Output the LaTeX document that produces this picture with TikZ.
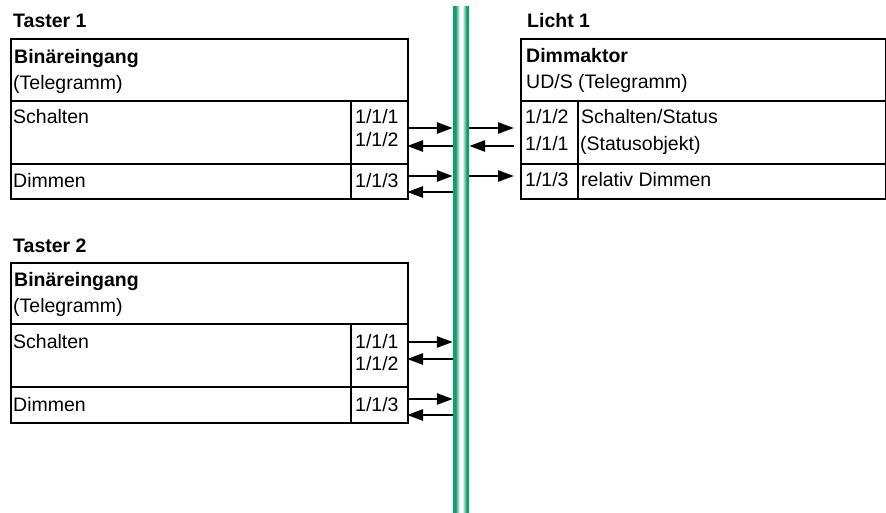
\documentclass[tikz,border=0pt]{standalone}
\usepackage{fontspec}
\setmainfont{Liberation Sans}
\usepackage{tikz}
\usetikzlibrary{arrows.meta,positioning}

\definecolor{busgreen}{RGB}{18,158,108}
\pgfdeclarehorizontalshading{busshade}{100bp}{color(0bp)=(busgreen); color(25bp)=(busgreen); color(33bp)=(busgreen); color(46bp)=(white); color(54bp)=(white); color(67bp)=(busgreen); color(75bp)=(busgreen); color(100bp)=(busgreen)}

\begin{document}
\begin{tikzpicture}[x=1pt,y=-1pt,>={Triangle[length=16pt,width=11pt]},
	cell/.style={draw, line width=2pt, anchor=north west, inner sep=0pt},
	txt/.style={anchor=base west, inner sep=0pt, font=\fontsize{19.5}{23}\selectfont},
	kopf/.style={txt, font=\fontsize{19.5}{23}\selectfont\bfseries},
	pfeil/.style={->, line width=2.6pt}]
			\useasboundingbox (0,0) rectangle (886,513);
			
			% Bus
			\node[shading=busshade, minimum width=16pt, minimum height=507pt, inner sep=0pt, anchor=north] (bus) at (461,6) {};
			
			% Taster 1
			\node[cell, minimum width=397pt, minimum height=62pt] (t1kopf) at (10,38) {};
			\node[cell, minimum width=340pt, minimum height=63pt] (t1sch) at (10,100) {};
			\node[cell, minimum width=57pt, minimum height=63pt] (t1ga) at (350,100) {};
			\node[cell, minimum width=340pt, minimum height=35pt] (t1dim) at (10,163) {};
			\node[cell, minimum width=57pt, minimum height=35pt] (t1gb) at (350,163) {};
			
			\node[kopf] (t1) at (13,28) {Taster 1};
			\node[kopf] (t1a) at (14,64) {Binäreingang};
			\node[txt] (t1b) at (13,90) {(Telegramm)};
			\node[txt] (t1c) at (13,124) {Schalten};
			\node[txt] (t1d) at (355,124) {1/1/1};
			\node[txt] (t1e) at (355,147) {1/1/2};
			\node[txt] (t1f) at (13,188) {Dimmen};
			\node[txt] (t1g) at (355,188) {1/1/3};
			
			% Taster 2
			\node[cell, minimum width=397pt, minimum height=61pt] (t2kopf) at (10,262) {};
			\node[cell, minimum width=340pt, minimum height=63pt] (t2sch) at (10,323) {};
			\node[cell, minimum width=57pt, minimum height=63pt] (t2ga) at (350,323) {};
			\node[cell, minimum width=340pt, minimum height=36pt] (t2dim) at (10,386) {};
			\node[cell, minimum width=57pt, minimum height=36pt] (t2gb) at (350,386) {};
			
			\node[kopf] (t2) at (13,252) {Taster 2};
			\node[kopf] (t2a) at (14,286) {Binäreingang};
			\node[txt] (t2b) at (13,312) {(Telegramm)};
			\node[txt] (t2c) at (13,348) {Schalten};
			\node[txt] (t2d) at (355,348) {1/1/1};
			\node[txt] (t2e) at (355,370) {1/1/2};
			\node[txt] (t2f) at (13,411) {Dimmen};
			\node[txt] (t2g) at (355,411) {1/1/3};
			
			% Licht 1
			\node[cell, minimum width=365pt, minimum height=62pt] (l1kopf) at (520,38) {};
			\node[cell, minimum width=57pt, minimum height=63pt] (l1ga) at (520,100) {};
			\node[cell, minimum width=308pt, minimum height=63pt] (l1sch) at (577,100) {};
			\node[cell, minimum width=57pt, minimum height=35pt] (l1gb) at (520,163) {};
			\node[cell, minimum width=308pt, minimum height=35pt] (l1dim) at (577,163) {};
			
			\node[kopf] (l1) at (527,28) {Licht 1};
			\node[kopf] (l1a) at (526,63) {Dimmaktor};
			\node[txt] (l1b) at (526,89) {UD/S (Telegramm)};
			\node[txt] (l1c) at (525,124) {1/1/2};
			\node[txt] (l1d) at (581,124) {Schalten/Status};
			\node[txt] (l1e) at (525,151) {1/1/1};
			\node[txt] (l1f) at (580,151) {(Statusobjekt)};
			\node[txt] (l1g) at (525,187) {1/1/3};
			\node[txt] (l1h) at (581,187) {relativ Dimmen};
			
			% Anschlusspunkte
			\coordinate (p1) at (407,128);
			\coordinate (p2) at (407,146);
			\coordinate (p3) at (407,176);
			\coordinate (p4) at (407,192);
			\coordinate (p5) at (407,342);
			\coordinate (p6) at (407,359);
			\coordinate (p7) at (407,399);
			\coordinate (p8) at (407,415);
			\coordinate (q1) at (514,128);
			\coordinate (q2) at (514,146);
			\coordinate (q3) at (514,176);
			
			\path[pfeil]
			(p1) edge (p1 -| bus.west)
			(p2 -| bus.west) edge (p2)
			(p3) edge (p3 -| bus.west)
			(p4 -| bus.west) edge (p4)
			
			(p5) edge (p5 -| bus.west)
			(p6 -| bus.west) edge (p6)
			(p7) edge (p7 -| bus.west)
			(p8 -| bus.west) edge (p8)
			
			(q1 -| bus.east) edge (q1)
			(q2) edge (q2 -| bus.east)
			(q3 -| bus.east) edge (q3);
			
\end{tikzpicture}
\end{document}
